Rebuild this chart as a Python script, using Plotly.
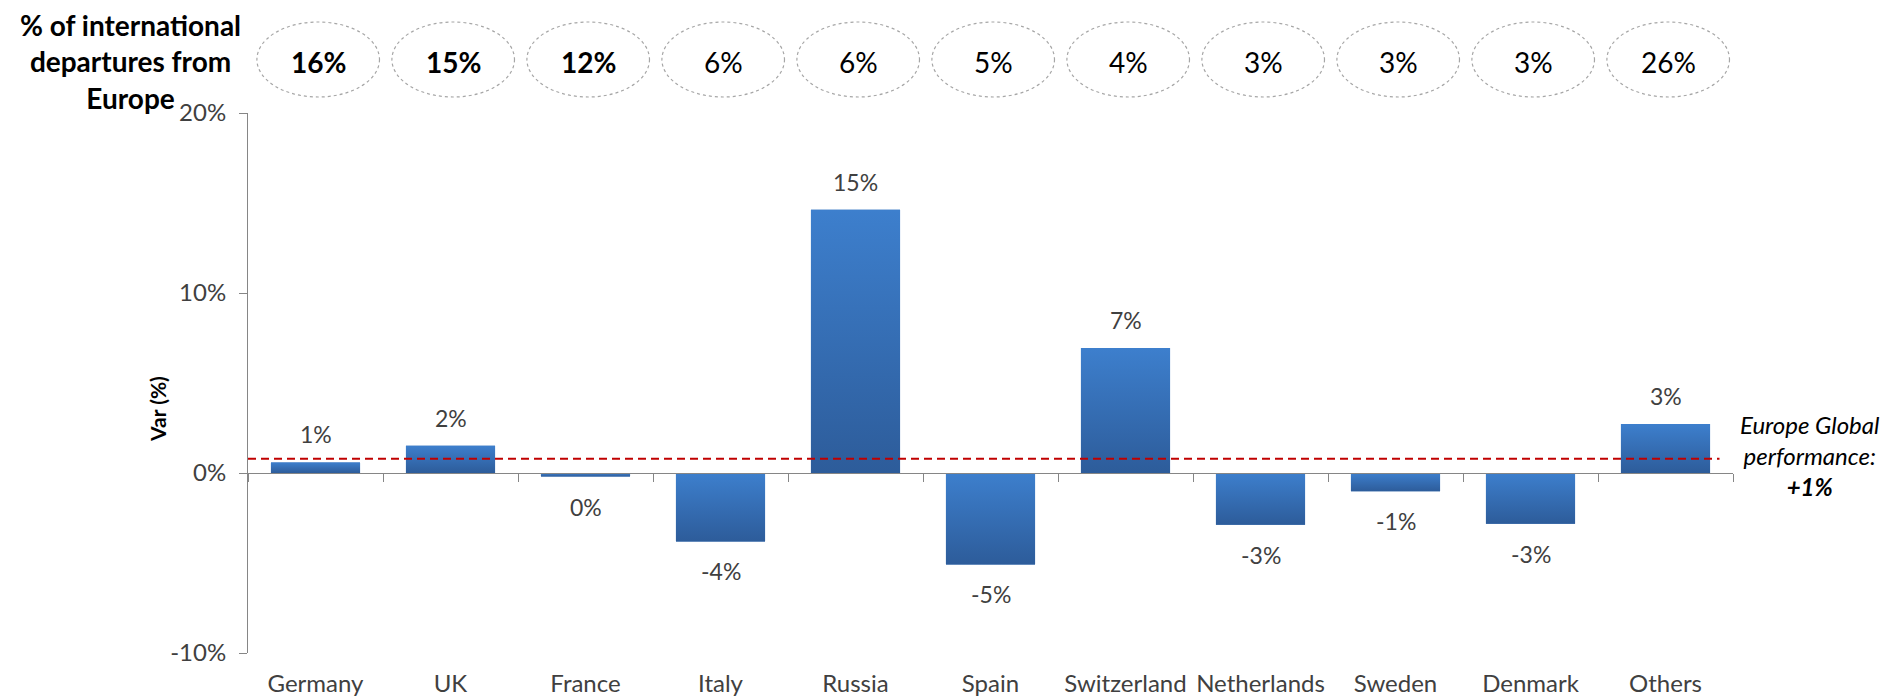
import plotly.graph_objects as go

# ---------------- data ----------------
categories = ["Germany", "UK", "France", "Italy", "Russia", "Spain",
              "Switzerland", "Netherlands", "Sweden", "Denmark", "Others"]
var_pct = [0.59, 1.52, -0.2, -3.8, 14.63, -5.08, 6.94, -2.87, -1.02, -2.82, 2.72]
share_pct = [16, 15, 12, 6, 6, 5, 4, 3, 3, 3, 26]
europe_global_pct = 0.79
y_tick_vals = [-10, 0, 10, 20]
y_tick_text = ["-10%", "0%", "10%", "20%"]

# ---------------- style ----------------
FONT = "Lato"
TXT = "#404040"
AXIS = "#868686"
BAR_LIGHT = "#3D7FCD"
BAR_DARK = "#2D5C9A"
W, H = 1888, 698
OFF = 8  # page body margin offset
ML, MR, MT, MB = 240, 163, 105, 53
PLOT_H = H - MT - MB
PLOT_W = W - ML - MR
BAR_HALF = 0.33
N_BOLD = 3


def paper_y(px):
    return (H - MB - (px - OFF)) / PLOT_H


def paper_x(px):
    return (px - OFF - ML) / PLOT_W


idx = list(range(len(categories)))
fig = go.Figure()

# base bars
fig.add_trace(go.Bar(x=idx, y=var_pct, width=2 * BAR_HALF,
                     marker=dict(color="#3670B8", line=dict(width=0)),
                     hoverinfo="x+y", showlegend=False))

# gradient overlay for each bar
for i, v in zip(idx, var_pct):
    fig.add_trace(go.Scatter(
        x=[i - BAR_HALF, i + BAR_HALF, i + BAR_HALF, i - BAR_HALF, i - BAR_HALF],
        y=[0, 0, v, v, 0], mode="lines", fill="toself",
        line=dict(width=0, color="rgba(0,0,0,0)"),
        fillgradient=dict(type="vertical",
                          colorscale=[[0, BAR_DARK], [1, BAR_LIGHT]]),
        hoverinfo="skip", showlegend=False))

# invisible trace for the zero-line axis with boundary ticks
fig.add_trace(go.Scatter(x=[idx[0] - 0.5, idx[-1] + 0.5], y=[0, 0],
                         xaxis="x2", mode="lines",
                         line=dict(width=0, color="rgba(0,0,0,0)"),
                         hoverinfo="skip", showlegend=False))

annotations = []
# data labels
for i, v in zip(idx, var_pct):
    annotations.append(dict(x=i, y=v, xref="x", yref="y",
                            text=f"{round(v)}%", showarrow=False,
                            xanchor="center", yanchor="middle",
                            yshift=28 if v >= 0 else -30,
                            font=dict(family=FONT, size=23, color=TXT)))

# share ellipses
shapes = []
for i, s in zip(idx, share_pct):
    cx = i + 0.02
    shapes.append(dict(type="circle", xref="x", yref="paper",
                       x0=cx - 0.454, x1=cx + 0.454,
                       y0=paper_y(97), y1=paper_y(22),
                       line=dict(color="#A6A6A6", width=1.2, dash="dot")))
    txt = f"{s}%"
    if i < N_BOLD:
        txt = f"<b>{txt}</b>"
    annotations.append(dict(x=cx, y=paper_y(62), xref="x", yref="paper",
                            text=txt, showarrow=False,
                            xanchor="center", yanchor="middle",
                            font=dict(family=FONT, size=28, color="black")))

# Europe global performance line
shapes.append(dict(type="line", xref="x", yref="y",
                   x0=idx[0] - 0.5, x1=idx[-1] + 0.4,
                   y0=europe_global_pct, y1=europe_global_pct,
                   line=dict(color="#C00000", width=2, dash="8px,5px")))

annotations.append(dict(
    x=paper_x(1810), y=paper_y(455), xref="paper", yref="paper",
    xanchor="center", yanchor="middle",
    text=("<i>Europe Global</i><br><i>performance:</i><br>"
          f"<b><i>+{round(europe_global_pct)}%</i></b>"),
    showarrow=False, align="center",
    font=dict(family=FONT, size=24, color="black")))

# left header
annotations.append(dict(
    x=paper_x(130), y=paper_y(62), xref="paper", yref="paper",
    xanchor="center", yanchor="middle", borderpad=0,
    text="<b>% of international<br>departures from<br>Europe</b>",
    showarrow=False, align="center",
    font=dict(family=FONT, size=28, color="black")))

# y-axis title
annotations.append(dict(
    x=paper_x(157), y=paper_y(409), xref="paper", yref="paper",
    xanchor="center", yanchor="middle",
    text="<b>Var (%)</b>", textangle=-90, showarrow=False,
    font=dict(family=FONT, size=21, color="black")))

fig.update_layout(
    width=W, height=H,
    margin=dict(l=ML, r=MR, t=MT, b=MB, autoexpand=False),
    paper_bgcolor="white", plot_bgcolor="white",
    font=dict(family=FONT, color=TXT),
    xaxis=dict(range=[idx[0] - 0.5, idx[-1] + 0.5], tickmode="array",
               tickvals=idx, ticktext=categories, showline=False,
               showgrid=False, zeroline=False, ticks="", automargin=False,
               ticklabelstandoff=14,
               tickfont=dict(family=FONT, size=24, color=TXT)),
    xaxis2=dict(range=[idx[0] - 0.5, idx[-1] + 0.5], overlaying="x",
                anchor="free", position=(0 - y_tick_vals[0]) / (y_tick_vals[-1] - y_tick_vals[0]),
                side="bottom", tickmode="linear", tick0=idx[0] - 0.5, dtick=1,
                ticks="outside", ticklen=8, tickcolor=AXIS, tickwidth=1,
                showticklabels=False, showline=True, linecolor=AXIS,
                linewidth=1, showgrid=False, zeroline=False, automargin=False),
    yaxis=dict(range=[y_tick_vals[0], y_tick_vals[-1]], tickmode="array",
               tickvals=y_tick_vals, ticktext=y_tick_text,
               showline=True, linecolor=AXIS, linewidth=1,
               ticks="outside", ticklen=8, tickcolor=AXIS,
               showgrid=False, zeroline=False, automargin=False,
               ticklabelstandoff=8,
               tickfont=dict(family=FONT, size=24, color=TXT)),
    shapes=shapes, annotations=annotations,
    showlegend=False, bargap=0.34,
)

fig.write_html("out.html")
